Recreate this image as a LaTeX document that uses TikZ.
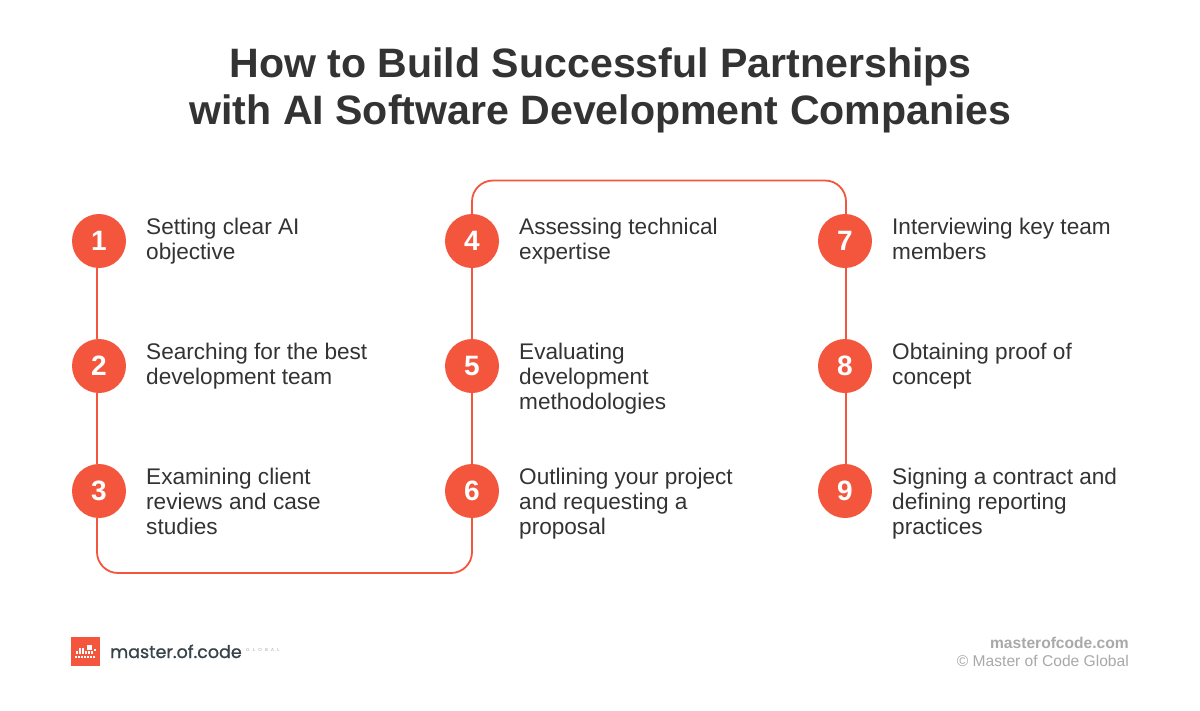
\documentclass[tikz,border=0pt]{standalone}
\usepackage{fontspec}
\setmainfont{Liberation Sans}
\newfontfamily\logofont[FakeBold=0.9]{Poppins}
\definecolor{accent}{HTML}{F4563D}
\definecolor{ink}{HTML}{333333}
\definecolor{greyt}{HTML}{A9A9A9}
\definecolor{logoink}{HTML}{36434A}
\tikzset{
  x=1pt,y=-1pt,
  badge/.style={circle,fill=accent,minimum size=54pt,inner sep=0pt,text=white,font=\fontsize{28}{28}\selectfont\bfseries},
  label/.style={anchor=north west,inner sep=0pt,text=ink,align=left,font=\fontsize{22.6}{25}\selectfont},
  link/.style={draw=accent,line width=1.8pt},
  titletext/.style={text=ink,align=center,font=\fontsize{41.1}{47}\selectfont\bfseries,inner sep=0pt},
  logopix/.style={fill=white},
}
\begin{document}
\begin{tikzpicture}
\useasboundingbox (0,0) rectangle (1200,710);
\fill[white] (0,0) rectangle (1200,710);
\node[titletext] (title) at (600.5,90) {How to Build Successful Partnerships\\with AI Software Development Companies};
\coordinate (b1) at (97,573);
\coordinate (b2) at (472,573);
\coordinate (t1) at (472,180.5);
\coordinate (t2) at (846,180.5);
\node[badge] (n1) at (99,241) {1};
\node[badge] (n2) at (99,366) {2};
\node[badge] (n3) at (99,491) {3};
\node[badge] (n4) at (472,241) {4};
\node[badge] (n5) at (472,366) {5};
\node[badge] (n6) at (472,491) {6};
\node[badge] (n7) at (845,241) {7};
\node[badge] (n8) at (845,366) {8};
\node[badge] (n9) at (845,491) {9};
\draw[link] (b1 |- n1.south) -- (b1 |- n2.north);
\draw[link] (b1 |- n2.south) -- (b1 |- n3.north);
\draw[link] (n4) -- (n5);
\draw[link] (n5) -- (n6);
\draw[link] (t2 |- n7.south) -- (t2 |- n8.north);
\draw[link] (t2 |- n8.south) -- (t2 |- n9.north);
\draw[link,rounded corners=21pt] (b1 |- n3.south) -- (b1) -- (b2) -- (n6.south);
\draw[link,rounded corners=21pt] (n4.north) -- (t1) -- (t2) -- (t2 |- n7.north);
\node[label] (l1) at (146,217.5) {Setting clear AI\\objective};
\node[label] (l2) at (146,342.5) {Searching for the best\\development team};
\node[label] (l3) at (146,467.5) {Examining client\\reviews and case\\studies};
\node[label] (l4) at (519,217.5) {Assessing technical\\expertise};
\node[label] (l5) at (519,342.5) {Evaluating\\development\\methodologies};
\node[label] (l6) at (519,467.5) {Outlining your project\\and requesting a\\proposal};
\node[label] (l7) at (892,217.5) {Interviewing key team\\members};
\node[label] (l8) at (892,342.5) {Obtaining proof of\\concept};
\node[label] (l9) at (892,467.5) {Signing a contract and\\defining reporting\\practices};
% logo
\fill[accent] (71,637) rectangle (100,666);
\fill[logopix] (86.5,645) rectangle (91.5,650);
\foreach \x/\y in {80/649.5,83/649.5,77/652.5,80/652.5,83/652.5,86/652.5,89/652.5,92/652.5,95/650}
  \fill[logopix] (\x-1.2,\y-1.2) rectangle (\x+1.2,\y+1.2);
\foreach \x in {75,78,81,84,87,90,93}
  \fill[logopix] (\x,655.5) rectangle (\x+2.3,658);
\node[anchor=base west,inner sep=0pt,text=logoink,font=\logofont\fontsize{17.5}{20}\selectfont] (logo) at (110,658) {master.of.code};
\node[anchor=base west,inner sep=0pt,text=greyt,font=\fontsize{4.4}{5}\selectfont] (logog) at (246,651) {G\hspace{3.2pt}L\hspace{3.2pt}O\hspace{3.2pt}B\hspace{3.2pt}A\hspace{3.2pt}L};
\node[anchor=base east,inner sep=0pt,text=greyt,font=\fontsize{15.6}{15}\selectfont\bfseries] (f1) at (1129,648) {masterofcode.com};
\node[anchor=base east,inner sep=0pt,text=greyt,font=\fontsize{15.6}{15}\selectfont] (f2) at (1129,666) {© Master of Code Global};
\end{tikzpicture}
\end{document}
